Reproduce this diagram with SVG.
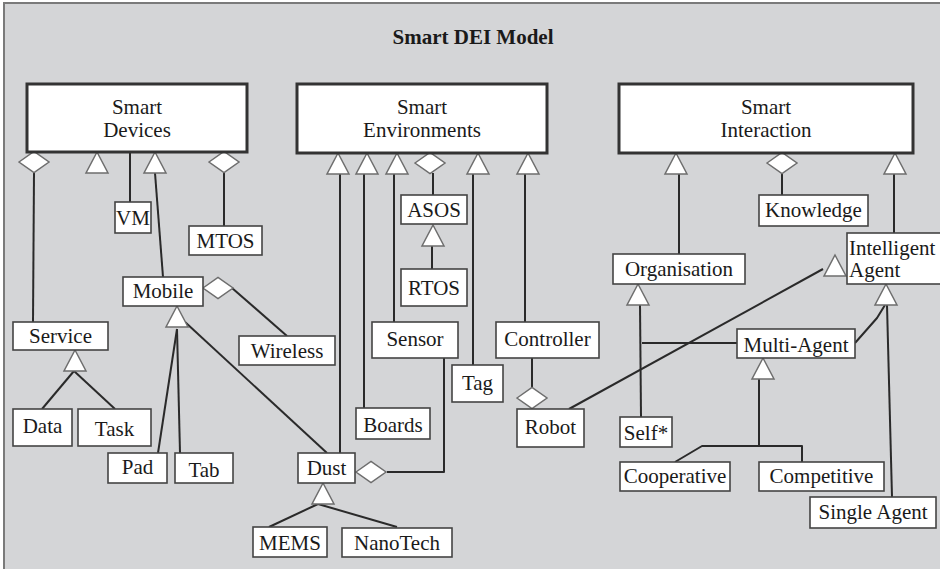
<svg xmlns="http://www.w3.org/2000/svg" xmlns:xlink="http://www.w3.org/1999/xlink" width="940" height="569" viewBox="0 0 940 569">
<style>
.bg{fill:#d4d5d7;stroke:#7a7a7a;stroke-width:2}
.main{fill:#ffffff;stroke:#333333;stroke-width:3}
.box{fill:#ffffff;stroke:#444444;stroke-width:1.6}
.t{font-family:'Liberation Serif',Tinos,'Times New Roman',Times,'DejaVu Serif',serif;font-size:21px;fill:#1a1a1a;text-anchor:middle}
.tl{text-anchor:start}
.title{font-family:'Liberation Serif',Tinos,'Times New Roman',Times,'DejaVu Serif',serif;font-size:21px;font-weight:bold;fill:#1a1a1a;text-anchor:middle}
.ln{fill:none;stroke:#2a2a2a;stroke-width:2;stroke-linejoin:round}
.sym{fill:#ffffff;stroke:#6e6e6e;stroke-width:1.5;stroke-linejoin:miter}
</style>
<defs>
<path id="tri" class="sym" d="M0,0 L11,21 L-11,21 Z"/>
<path id="dia" class="sym" d="M-15,0 L0,-10.5 L15,0 L0,10.5 Z"/>
</defs>
<rect class="bg" x="4" y="3" width="950" height="580"/>
<text class="title" x="473" y="44">Smart DEI Model</text>

<g id="connectors">
<line class="ln" x1="34" y1="173" x2="33" y2="322"/>
<line class="ln" x1="130" y1="152" x2="130" y2="202"/>
<line class="ln" x1="155" y1="173" x2="163" y2="277"/>
<line class="ln" x1="224" y1="173" x2="224" y2="226"/>
<line class="ln" x1="232" y1="288" x2="287" y2="336"/>
<line class="ln" x1="177" y1="329" x2="158" y2="453"/>
<line class="ln" x1="177" y1="329" x2="180" y2="453"/>
<line class="ln" x1="185" y1="322" x2="327" y2="453"/>
<line class="ln" x1="74" y1="371" x2="42" y2="409"/>
<line class="ln" x1="74" y1="371" x2="115" y2="409"/>
<line class="ln" x1="340" y1="174" x2="340" y2="453"/>
<line class="ln" x1="364" y1="174" x2="364" y2="408"/>
<line class="ln" x1="394" y1="174" x2="394" y2="322"/>
<line class="ln" x1="433" y1="173" x2="433" y2="195"/>
<line class="ln" x1="473" y1="174" x2="473" y2="365"/>
<line class="ln" x1="525" y1="174" x2="525" y2="322"/>
<line class="ln" x1="432" y1="246" x2="432" y2="269"/>
<polyline class="ln" points="444,358 444,472 387,472"/>
<line class="ln" x1="532" y1="358" x2="532" y2="388"/>
<line class="ln" x1="569" y1="409" x2="823" y2="269"/>
<line class="ln" x1="318" y1="504" x2="269" y2="527"/>
<line class="ln" x1="318" y1="504" x2="397" y2="527"/>
<line class="ln" x1="679" y1="173" x2="679" y2="254"/>
<line class="ln" x1="782" y1="173" x2="782" y2="195"/>
<line class="ln" x1="894" y1="174" x2="894" y2="233"/>
<line class="ln" x1="640" y1="305" x2="641" y2="417"/>
<line class="ln" x1="737" y1="343" x2="642" y2="343"/>
<polyline class="ln" points="885,305 877,318 855,343"/>
<line class="ln" x1="887" y1="305" x2="892" y2="497"/>
<line class="ln" x1="759" y1="379" x2="759" y2="446"/>
<polyline class="ln" points="675,462 702,446 802,446 802,462"/>
<use xlink:href="#tri" x="97" y="152"/>
<use xlink:href="#tri" x="155" y="152"/>
<use xlink:href="#tri" x="338" y="153"/>
<use xlink:href="#tri" x="367" y="153"/>
<use xlink:href="#tri" x="397" y="153"/>
<use xlink:href="#tri" x="478" y="153"/>
<use xlink:href="#tri" x="528" y="153"/>
<use xlink:href="#tri" x="433" y="225"/>
<use xlink:href="#tri" x="676" y="153"/>
<use xlink:href="#tri" x="895" y="153"/>
<use xlink:href="#tri" x="177" y="306"/>
<use xlink:href="#tri" x="75" y="350"/>
<use xlink:href="#tri" x="323" y="483"/>
<use xlink:href="#tri" x="638" y="284"/>
<use xlink:href="#tri" x="886" y="284"/>
<use xlink:href="#tri" x="763" y="358"/>
<use xlink:href="#tri" x="835" y="255"/>
<use xlink:href="#dia" x="34" y="162"/>
<use xlink:href="#dia" x="224" y="162"/>
<use xlink:href="#dia" x="430" y="163"/>
<use xlink:href="#dia" x="782" y="163"/>
<use xlink:href="#dia" x="218" y="288"/>
<use xlink:href="#dia" x="371" y="472"/>
<use xlink:href="#dia" x="532" y="398"/>
</g>

<g id="smart-devices"><rect class="main" x="27" y="84" width="220" height="68"/><text class="t" x="137" y="114">Smart</text><text class="t" x="137" y="137">Devices</text></g>
<g id="smart-environments"><rect class="main" x="297" y="84" width="250" height="69"/><text class="t" x="422" y="114">Smart</text><text class="t" x="422" y="137">Environments</text></g>
<g id="smart-interaction"><rect class="main" x="619" y="84" width="294" height="69"/><text class="t" x="766" y="114">Smart</text><text class="t" x="766" y="137">Interaction</text></g>

<g id="vm"><rect class="box" x="115" y="202" width="36" height="31"/><text class="t" x="133" y="225">VM</text></g>
<g id="mtos"><rect class="box" x="189" y="226" width="73" height="29"/><text class="t" x="225.5" y="248">MTOS</text></g>
<g id="mobile"><rect class="box" x="123" y="277" width="80" height="29"/><text class="t" x="163" y="298">Mobile</text></g>
<g id="wireless"><rect class="box" x="239" y="336" width="96" height="29"/><text class="t" x="287" y="358">Wireless</text></g>
<g id="service"><rect class="box" x="13" y="322" width="95" height="28"/><text class="t" x="60.5" y="343">Service</text></g>
<g id="data"><rect class="box" x="13" y="409" width="59" height="37"/><text class="t" x="42.5" y="433">Data</text></g>
<g id="task"><rect class="box" x="78" y="409" width="73" height="37"/><text class="t" x="114.5" y="436">Task</text></g>
<g id="pad"><rect class="box" x="108" y="453" width="59" height="30"/><text class="t" x="137.5" y="474">Pad</text></g>
<g id="tab"><rect class="box" x="175" y="453" width="58" height="30"/><text class="t" x="204" y="477">Tab</text></g>
<g id="asos"><rect class="box" x="401" y="195" width="66" height="29"/><text class="t" x="434" y="217">ASOS</text></g>
<g id="rtos"><rect class="box" x="401" y="269" width="66" height="37"/><text class="t" x="434" y="295">RTOS</text></g>
<g id="sensor"><rect class="box" x="372" y="322" width="86" height="36"/><text class="t" x="415" y="346">Sensor</text></g>
<g id="controller"><rect class="box" x="496" y="322" width="103" height="36"/><text class="t" x="547.5" y="346">Controller</text></g>
<g id="tag"><rect class="box" x="452" y="365" width="51" height="37"/><text class="t" x="477.5" y="390">Tag</text></g>
<g id="boards"><rect class="box" x="356" y="408" width="74" height="31"/><text class="t" x="393" y="432">Boards</text></g>
<g id="robot"><rect class="box" x="517" y="409" width="67" height="38"/><text class="t" x="550.5" y="434">Robot</text></g>
<g id="dust"><rect class="box" x="298" y="453" width="57" height="30"/><text class="t" x="326.5" y="475">Dust</text></g>
<g id="mems"><rect class="box" x="253" y="527" width="74" height="30"/><text class="t" x="290" y="550">MEMS</text></g>
<g id="nanotech"><rect class="box" x="342" y="528" width="110" height="29"/><text class="t" x="397" y="550">NanoTech</text></g>
<g id="knowledge"><rect class="box" x="759" y="195" width="109" height="31"/><text class="t" x="813.5" y="217">Knowledge</text></g>
<g id="organisation"><rect class="box" x="613" y="254" width="132" height="30"/><text class="t" x="679" y="276">Organisation</text></g>
<g id="intelligent-agent"><rect class="box" x="847" y="233" width="95" height="51"/><text class="t tl" x="849" y="255">Intelligent</text><text class="t tl" x="849" y="277">Agent</text></g>
<g id="multi-agent"><rect class="box" x="737" y="329" width="118" height="29"/><text class="t" x="796" y="352">Multi-Agent</text></g>
<g id="self"><rect class="box" x="620" y="417" width="52" height="30"/><text class="t" x="646" y="440">Self*</text></g>
<g id="cooperative"><rect class="box" x="620" y="462" width="110" height="29"/><text class="t" x="675" y="483">Cooperative</text></g>
<g id="competitive"><rect class="box" x="759" y="462" width="125" height="29"/><text class="t" x="821.5" y="483">Competitive</text></g>
<g id="single-agent"><rect class="box" x="810" y="497" width="126" height="31"/><text class="t" x="873" y="519">Single Agent</text></g>
</svg>
